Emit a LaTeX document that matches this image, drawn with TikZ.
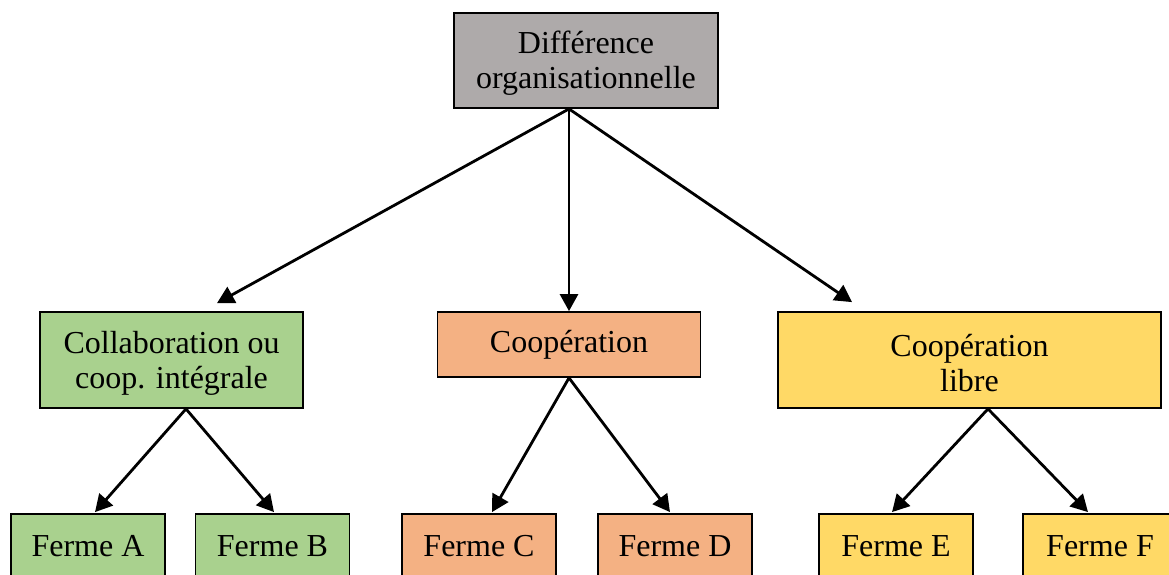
\documentclass[tikz,border=0pt]{standalone}
\usepackage{fontspec}
\setmainfont{Liberation Serif}
\usetikzlibrary{arrows.meta,calc}
\definecolor{boxgray}{HTML}{AEAAAA}
\definecolor{boxgreen}{HTML}{A9D18E}
\definecolor{boxorange}{HTML}{F4B183}
\definecolor{boxyellow}{HTML}{FFD966}
% strut that lowers two-line labels slightly inside their boxes
\newcommand{\toplinestrut}{\rule{0pt}{28pt}}
\tikzset{
  box/.style={draw=black, line width=1.8pt, rectangle, inner sep=0pt, align=center,
    font=\fontsize{32}{35}\selectfont},
  farm/.style={box, minimum width=154pt, minimum height=65pt},
  link/.style={line width=2.8pt, -{Triangle[length=17pt,width=18pt]}}
}
\begin{document}
\begin{tikzpicture}[x=1pt,y=-1pt]
  \path[use as bounding box, clip] (0,0) rectangle (1169,574);

  % root
  \node[box, fill=boxgray, minimum width=264pt, minimum height=95pt] (root) at (586,60.5)
    {\toplinestrut Différence\\organisationnelle};

  % three forms of organisation
  \node[box, fill=boxgreen, minimum width=263pt, minimum height=96pt] (collab) at (171.5,360)
    {\toplinestrut Collaboration ou\\coop. intégrale};
  \node[box, fill=boxorange, minimum width=263pt, minimum height=65pt] (coop) at (569,344.5)
    {Coopération};
  \node[box, fill=boxyellow, minimum width=383pt, minimum height=96pt] (libre) at (969.5,360)
    {\toplinestrut Coopération\\libre};

  % farms
  \node[farm, fill=boxgreen]  (fA) at (88,546.5)   {Ferme A};
  \node[farm, fill=boxgreen]  (fB) at (272.5,546.5) {Ferme B};
  \node[farm, fill=boxorange] (fC) at (479,546.5)  {Ferme C};
  \node[farm, fill=boxorange] (fD) at (675,546.5)  {Ferme D};
  \node[farm, fill=boxyellow] (fE) at (896,546.5)  {Ferme E};
  \node[farm, fill=boxyellow] (fF) at (1100,546.5) {Ferme F};

  % connectors from the root
  \coordinate (hub) at (root.south -| coop.north);
  \draw[link] (hub) -- ($(collab.north)+(45.5,-8)$);
  \draw[link] (hub) -- (coop.north);
  \draw[link] (hub) -- ($(libre.north)+(-117.5,-9)$);

  % connectors to the farms
  \draw[link] ($(collab.south)+(14.5,0)$) -- ($(fA.north)+(7,-1)$);
  \draw[link] ($(collab.south)+(14.5,0)$) -- ($(fB.north)+(1.5,-1)$);
  \draw[link] (coop.south) -- ($(fC.north)+(13,-1)$);
  \draw[link] (coop.south) -- ($(fD.north)+(-5,-1)$);
  \draw[link] ($(libre.south)+(18.5,0)$) -- ($(fE.north)+(-4,-1)$);
  \draw[link] ($(libre.south)+(18.5,0)$) -- ($(fF.north)+(-12,-1)$);
\end{tikzpicture}
\end{document}
